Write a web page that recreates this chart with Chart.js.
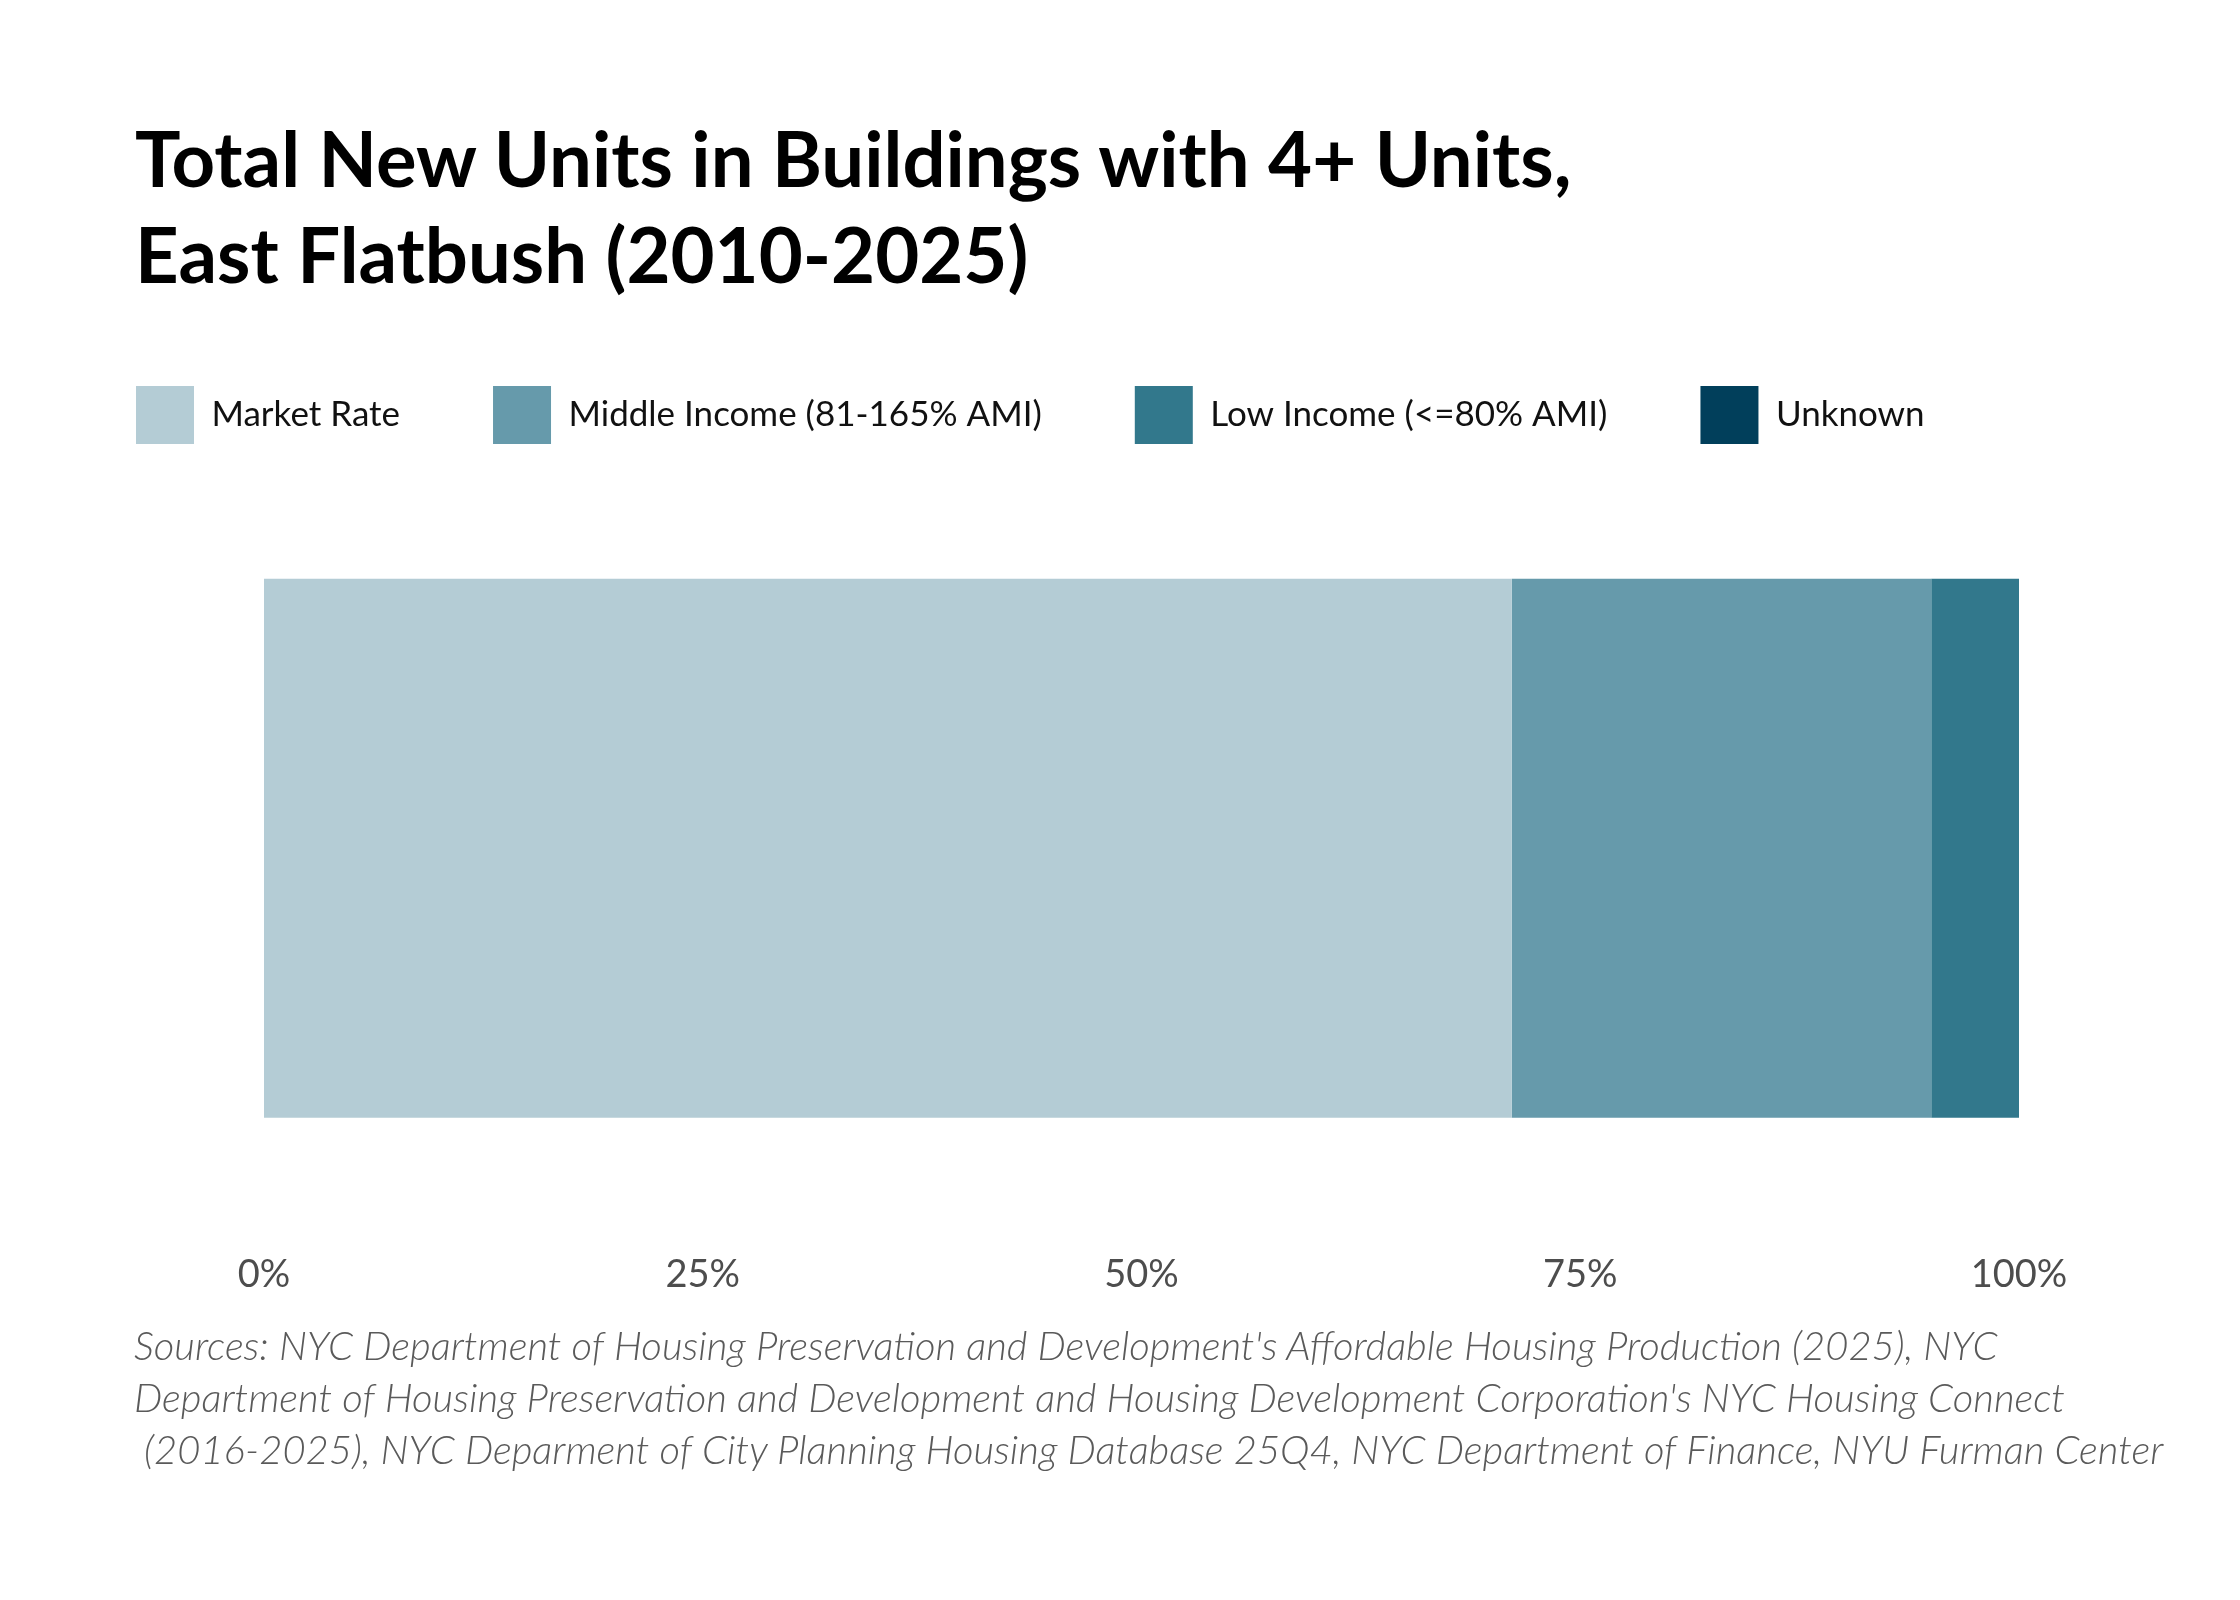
<!DOCTYPE html>
<html>
<head>
<meta charset="utf-8">
<script src="https://cdn.jsdelivr.net/npm/chart.js@4.4.1/dist/chart.umd.min.js"></script>
<style>
  html, body { margin: 0; padding: 0; background: #ffffff; }
  #wrap { position: relative; width: 2240px; height: 1600px; background: #ffffff; }
  #chartBox { position: absolute; left: 0; top: 0; width: 2240px; height: 1600px; }
  #title { position: absolute; left: 135px; top: 110px; margin: 0; font-family: Lato, sans-serif; font-weight: 700;
           font-size: 76px; line-height: 96px; color: #000; white-space: pre; }
  #sources { position: absolute; left: 134px; top: 1319px; margin: 0; font-family: Lato, sans-serif; font-style: italic;
             font-weight: 300; font-size: 40px; line-height: 52px; color: #5a5a5a; white-space: pre; }
</style>
</head>
<body>
<div id="wrap">
  <div id="chartBox"><canvas id="c"></canvas></div>
  <div id="title"></div>
  <div id="sources"></div>
</div>
<script>
const titleLines = ["Total New Units in Buildings with 4+ Units,", "East Flatbush (2010-2025)"];
const sourceLines = [
  "Sources: NYC Department of Housing Preservation and Development's Affordable Housing Production (2025), NYC",
  "Department of Housing Preservation and Development and Housing Development Corporation's NYC Housing Connect",
  " (2016-2025), NYC Deparment of City Planning Housing Database 25Q4, NYC Department of Finance, NYU Furman Center"
];
const categories = ["East Flatbush"];
const seriesNames = ["Market Rate", "Middle Income (81-165% AMI)", "Low Income (<=80% AMI)", "Unknown"];
const marketRate = [71.1];
const middleIncome = [23.9];
const lowIncome = [5.0];
const unknown = [0];
const seriesColors = ["#b4ccd5", "#669aab", "#32788c", "#013f5b"];
const tickValues = [0, 25, 50, 75, 100];

document.getElementById('title').textContent = titleLines.join("\n");
document.getElementById('sources').textContent = sourceLines.join("\n");

const seriesData = [marketRate, middleIncome, lowIncome, unknown];
const datasets = seriesNames.map((name, i) => ({
  label: name,
  data: seriesData[i],
  yAxisID: 'y',
  backgroundColor: seriesColors[i],
  borderWidth: 0,
  categoryPercentage: 1,
  barPercentage: 0.6666
}));

new Chart(document.getElementById('c'), {
  type: 'bar',
  data: { labels: categories, datasets },
  options: {
    indexAxis: 'y',
    responsive: true,
    maintainAspectRatio: false,
    devicePixelRatio: 1,
    animation: false,
    layout: { padding: { left: 43, right: 20, top: 293, bottom: 302 } },
    plugins: {
      tooltip: { enabled: false },
      legend: {
        position: 'top',
        align: 'start',
        maxHeight: 151,
        labels: {
          boxWidth: 58,
          boxHeight: 58,
          padding: 93,
          color: '#111111',
          font: { family: 'Lato', size: 35 }
        }
      }
    },
    scales: {
      x: {
        stacked: true,
        min: 0,
        max: 100,
        afterBuildTicks: (s) => { s.ticks = tickValues.map(v => ({ value: v })); },
        ticks: {
          callback: (v) => v + '%',
          color: '#4d4d4d',
          padding: 0,
          maxRotation: 0,
          font: { family: 'Lato', size: 38 }
        },
        grid: { display: false, drawTicks: false },
        border: { display: false }
      },
      y: {
        stacked: true,
        position: 'left',
        ticks: { display: false },
        grid: { display: false, drawTicks: false },
        border: { display: false },
        afterFit: (s) => { s.width = 221; }
      },
      y2: {
        type: 'category',
        position: 'right',
        ticks: { display: false },
        grid: { display: false, drawTicks: false },
        border: { display: false },
        afterFit: (s) => { s.width = 201; }
      }
    }
  }
});
</script>
</body>
</html>
